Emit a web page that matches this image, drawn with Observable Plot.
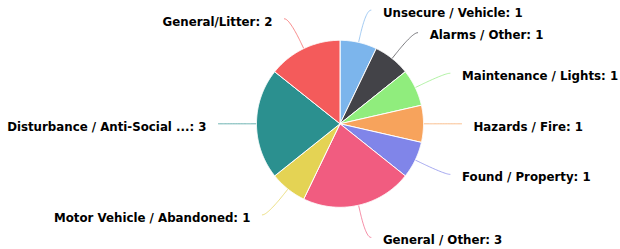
<!DOCTYPE html>
<html><head><meta charset="utf-8">
<script src="https://cdn.jsdelivr.net/npm/d3@7"></script>
<script src="https://cdn.jsdelivr.net/npm/@observablehq/plot@0.6"></script>
<style>html,body{margin:0;padding:0;background:#fff;}</style>
</head><body><div id="chart"></div>
<script>
// ---- data ----
const categories = ["Unsecure / Vehicle", "Alarms / Other", "Maintenance / Lights", "Hazards / Fire", "Found / Property", "General / Other", "Motor Vehicle / Abandoned", "Disturbance / Anti-Social ...", "General/Litter"];
const counts = [1, 1, 1, 1, 1, 3, 1, 3, 2];

// ---- style / layout constants ----
const palette = ["#7cb5ec", "#434348", "#90ed7d", "#f7a35c", "#8085e9", "#f15c80", "#e4d354", "#2b908f", "#f45b5b"];
const W = 620, H = 249;
const cx = 339.5, cy = 123.3, r = 83.5, labelR = 116.5, pad = 5, textGap = 12, breakOff = 6;

const rows = categories.map((name, i) => ({name, count: counts[i]}));
const arcs = d3.pie().sort(null).value(d => d.count)(rows);
const pt = (a, rad) => [cx + rad * Math.sin(a), cy - rad * Math.cos(a)];

// slice outlines
const slicePts = [];
arcs.forEach(s => {
  const name = s.data.name;
  slicePts.push({name, x: cx, y: cy});
  const n = Math.max(4, Math.ceil((s.endAngle - s.startAngle) / (Math.PI / 360)));
  for (let k = 0; k <= n; k++) {
    const a = s.startAngle + (s.endAngle - s.startAngle) * k / n;
    const [x, y] = pt(a, r);
    slicePts.push({name, x, y});
  }
  slicePts.push({name, x: cx, y: cy});
});

// connectors + labels
const connPts = [];
const labels = arcs.map(s => {
  const name = s.data.name;
  const a = (s.startAngle + s.endAngle) / 2;
  const side = Math.sin(a) >= -1e-9 ? 1 : -1;
  const [nx, ny] = pt(a, labelR);
  const lx = nx + side * pad, ly = ny;
  const touch = pt(a, r), brk = pt(a, r + breakOff);
  const p0 = [lx, ly], p1 = [lx - side * 5, ly], p2 = [2 * brk[0] - touch[0], 2 * brk[1] - touch[1]], p3 = brk;
  const N = 24;
  for (let k = 0; k <= N; k++) {
    const t = k / N, u = 1 - t;
    const x = u*u*u*p0[0] + 3*u*u*t*p1[0] + 3*u*t*t*p2[0] + t*t*t*p3[0];
    const y = u*u*u*p0[1] + 3*u*u*t*p1[1] + 3*u*t*t*p2[1] + t*t*t*p3[1];
    connPts.push({name, x, y});
  }
  connPts.push({name, x: touch[0], y: touch[1]});
  return {name, text: `${name}: ${s.data.count}`, x: lx + side * textGap, y: ly, side};
});

const textOpts = {x: "x", y: "y", text: "text", fill: "#000", fontFamily: "DejaVu Sans", fontWeight: "bold", fontSize: 11.8, lineAnchor: "middle", dy: 3};

const chart = Plot.plot({
  width: W, height: H, margin: 0,
  x: {type: "linear", domain: [0, W], range: [0, W], axis: null},
  y: {type: "linear", domain: [0, H], range: [0, H], axis: null},
  color: {domain: categories, range: palette},
  style: {background: "#fff", overflow: "visible"},
  marks: [
    Plot.line(connPts, {x: "x", y: "y", z: "name", stroke: "name", strokeWidth: 1, strokeOpacity: 0.7, curve: "linear"}),
    Plot.line(slicePts, {x: "x", y: "y", z: "name", fill: "name", stroke: "#fff", strokeWidth: 1, strokeLinejoin: "round", curve: "linear"}),
    Plot.text(labels.filter(d => d.side > 0), {...textOpts, textAnchor: "start"}),
    Plot.text(labels.filter(d => d.side < 0), {...textOpts, textAnchor: "end"})
  ]
});
document.getElementById("chart").append(chart);
</script>
</body></html>
